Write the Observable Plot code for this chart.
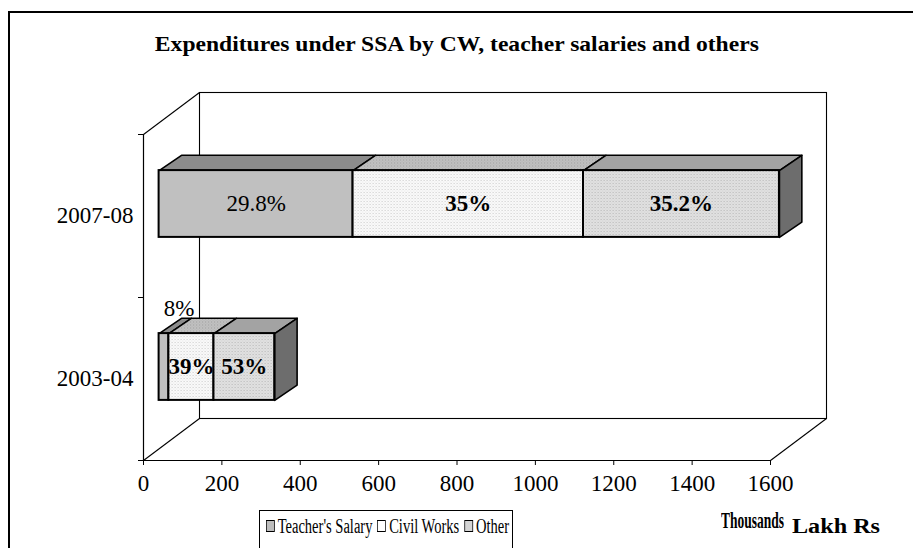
<!DOCTYPE html>
<html>
<head>
<meta charset="utf-8">
<script src="https://cdn.jsdelivr.net/npm/d3@7"></script>
<script src="https://cdn.jsdelivr.net/npm/@observablehq/plot@0.6"></script>
<style>
  body { margin: 0; background: #fff; }
  #wrap { position: relative; width: 913px; height: 548px; overflow: hidden; background: #fff;
          font-family: "Liberation Serif", "Times New Roman", serif; color: #000; }
  #border { position: absolute; left: 8px; top: 11px; width: 1200px; height: 1200px;
            border-left: 2px solid #000; border-top: 2px solid #000; }
  #title { position: absolute; left: 0; top: 32px; width: 913px; text-align: center;
           font-weight: bold; font-size: 21px; white-space: nowrap; }
  #title span { display: inline-block; transform-origin: center; }
  #chart { position: absolute; left: 0; top: 0; }
  #legend { position: absolute; left: 259px; top: 510px; width: 254px; height: 80px;
            border: 1px solid #000; box-sizing: border-box; overflow: hidden; }
  #legendInner { position: absolute; left: 6px; top: 3px; font-size: 20px; white-space: nowrap;
                 transform-origin: left center; display: inline-block;
                 font-family: "Liberation Serif", "Times New Roman", serif; }
  #legendInner .item { display: inline-flex; align-items: center; }
  #legendInner .sw { display: inline-block; width: 12px; height: 12px; border: 1px solid #000; margin-right: 4px; box-sizing: border-box; }
  #legendInner .item + .item { margin-left: 7px; }
  .unit { position: absolute; font-weight: bold; white-space: nowrap; transform-origin: left center; }
</style>
</head>
<body>
<svg width="0" height="0" style="position:absolute">
  <defs>
    <pattern id="pCW" width="3" height="3" patternUnits="userSpaceOnUse">
      <rect width="3" height="3" fill="#fbfbfb"></rect>
      <rect x="0" y="0" width="1" height="1" fill="#c8c8c8"></rect>
      <rect x="1.5" y="1.5" width="1" height="1" fill="#dddddd"></rect>
    </pattern>
    <pattern id="pOther" width="3" height="3" patternUnits="userSpaceOnUse">
      <rect width="3" height="3" fill="#e2e2e2"></rect>
      <rect x="0" y="0" width="1" height="1" fill="#b4b4b4"></rect>
      <rect x="1.5" y="1.5" width="1" height="1" fill="#c6c6c6"></rect>
    </pattern>
    <pattern id="pCWTop" width="3" height="3" patternUnits="userSpaceOnUse">
      <rect width="3" height="3" fill="#c2c2c2"></rect>
      <rect x="0" y="0" width="1" height="1" fill="#9a9a9a"></rect>
      <rect x="1.5" y="1.5" width="1" height="1" fill="#a8a8a8"></rect>
    </pattern>
  </defs>
</svg>
<div id="wrap">
  <div id="border"></div>
  <div id="title"><span id="titleText">Expenditures under SSA by CW, teacher salaries and others</span></div>
  <div id="chart"></div>
  <div id="legend"><span id="legendInner"></span></div>
  <div class="unit" id="u1" style="left:721px; top:507px; font-size:24px;">Thousands</div>
  <div class="unit" id="u2" style="left:792px; top:515px; font-size:20px;">Lakh Rs</div>
</div>
<script>
// ---- data ----
const years = ["2003-04", "2007-08"];
const seriesNames = ["Teacher's Salary", "Civil Works", "Other"];
const teacherSalary = [25, 495];
const civilWorks = [115, 588];
const other = [155, 500];
const shareLabels2003 = ["8%", "39%", "53%"];
const shareLabels2007 = ["29.8%", "35%", "35.2%"];
const labelBold2003 = [false, true, true];
const labelBold2007 = [false, true, true];
const xTicks = [0, 200, 400, 600, 800, 1000, 1200, 1400, 1600];

// ---- styles ----
const FONT = "'Liberation Serif', 'Times New Roman', serif";
const frontColors = ["#c0c0c0", "#f6f6f6", "#dedede"];
const topColors = ["#8c8c8c", "#bcbcbc", "#a3a3a3"];
const sideColor = "#6d6d6d";
const legendColors = ["#bdbdbd", "#ffffff", "#d4d4d4"];
const patternFor = {"#f6f6f6": "url(#pCW)", "#dedede": "url(#pOther)", "#bcbcbc": "url(#pCWTop)"};

// ---- geometry (pixels) ----
const W = 913, H = 548;
const mL = 143, mR = 143, mT = 134, mB = 88;
const xDomain = [0, 1600], yDomain = [0, 2];
const kx = (W - mL - mR) / (xDomain[1] - xDomain[0]);
const ky = (H - mT - mB) / (yDomain[1] - yDomain[0]);
const wallDepth = [56, -42];          // back wall offset
const barFront = [15.6, -12];         // bar front face offset
const barDepth = [22.4, -15.3];       // bar depth
const barHalf = 33.4 / ky;            // half height in y units
const ddx = barDepth[0] / kx, ddy = -barDepth[1] / ky;
const wdx = wallDepth[0] / kx, wdy = -wallDepth[1] / ky;

// ---- build segments ----
const values = [teacherSalary, civilWorks, other];
const labels = [shareLabels2003, shareLabels2007];
const bolds = [labelBold2003, labelBold2007];
const segs = [];
years.forEach((yr, i) => {
  let acc = 0;
  values.forEach((arr, j) => {
    const v = arr[i];
    segs.push({year: yr, i, j, x1: acc, x2: acc + v, yb: i + 0.5 - barHalf, yt: i + 0.5 + barHalf,
               label: labels[i][j], bold: bolds[i][j], last: j === values.length - 1});
    acc += v;
  });
});

const tops = [];
segs.forEach((s, k) => {
  const pts = [[s.x1, s.yt], [s.x2, s.yt], [s.x2 + ddx, s.yt + ddy], [s.x1 + ddx, s.yt + ddy]];
  pts.forEach(p => tops.push({id: "t" + k, x: p[0], y: p[1], fill: topColors[s.j]}));
});
const sides = [];
segs.filter(s => s.last).forEach((s, k) => {
  const pts = [[s.x2, s.yt], [s.x2 + ddx, s.yt + ddy], [s.x2 + ddx, s.yb + ddy], [s.x2, s.yb]];
  pts.forEach(p => sides.push({id: "s" + k, x: p[0], y: p[1]}));
});

const diagonals = [
  {x1: xDomain[0], y1: yDomain[0], x2: xDomain[0] + wdx, y2: yDomain[0] + wdy},
  {x1: xDomain[0], y1: yDomain[1], x2: xDomain[0] + wdx, y2: yDomain[1] + wdy},
  {x1: xDomain[1], y1: yDomain[0], x2: xDomain[1] + wdx, y2: yDomain[0] + wdy}
];

const mainLabels = segs.filter(s => !(s.i === 0 && s.j === 0));
const smallLabel = segs.filter(s => s.i === 0 && s.j === 0);

const chart = Plot.plot({
  width: W, height: H,
  marginLeft: mL, marginRight: mR, marginTop: mT, marginBottom: mB,
  x: {domain: xDomain, label: null},
  y: {domain: yDomain, label: null},
  style: {fontFamily: FONT, background: "transparent", color: "#000", overflow: "visible"},
  marks: [
    Plot.frame({stroke: "#000", strokeWidth: 1.1, dx: wallDepth[0], dy: wallDepth[1]}),
    Plot.link(diagonals, {x1: "x1", y1: "y1", x2: "x2", y2: "y2", stroke: "#000", strokeWidth: 1.1}),
    Plot.ruleX([xDomain[0]], {stroke: "#000", strokeWidth: 1.2}),
    Plot.ruleY([yDomain[0]], {stroke: "#000", strokeWidth: 1.2}),
    Plot.axisX(xTicks, {tickSize: 5, tickPadding: 9, fontSize: 23, fontFamily: FONT, tickFormat: d => String(d), stroke: "#000", strokeOpacity: 1}),
    Plot.axisY([0, 1, 2], {tickSize: 5, tickFormat: () => "", stroke: "#000", strokeOpacity: 1}),
    Plot.axisY([0.5, 1.5], {tickSize: 0, tickPadding: 10, fontSize: 23, fontFamily: FONT, tickFormat: d => years[Math.floor(d)]}),
    // top faces
    Plot.line(tops, {x: "x", y: "y", z: "id", fill: "fill", stroke: "#000", strokeWidth: 1.6, curve: "linear-closed", dx: barFront[0], dy: barFront[1]}),
    // side face
    Plot.line(sides, {x: "x", y: "y", z: "id", fill: sideColor, stroke: "#000", strokeWidth: 1.6, curve: "linear-closed", dx: barFront[0], dy: barFront[1]}),
    // front faces
    Plot.rect(segs, {x1: "x1", x2: "x2", y1: "yb", y2: "yt", fill: d => frontColors[d.j], stroke: "#000", strokeWidth: 2, dx: barFront[0], dy: barFront[1]}),
    Plot.text(mainLabels.filter(d => !d.bold), {x: d => (d.x1 + d.x2) / 2, y: d => d.i + 0.5, text: "label", fontSize: 23, fontFamily: FONT, dx: barFront[0], dy: barFront[1]}),
    Plot.text(mainLabels.filter(d => d.bold), {x: d => (d.x1 + d.x2) / 2, y: d => d.i + 0.5, text: "label", fontSize: 23, fontFamily: FONT, fontWeight: "bold", dx: barFront[0], dy: barFront[1]}),
    Plot.text(smallLabel, {x: d => (d.x1 + d.x2) / 2, y: "yt", text: "label", fontSize: 23, fontFamily: FONT, dx: barFront[0] + 15, dy: barFront[1] - 25})
  ]
});
document.getElementById("chart").appendChild(chart);

// dotted textures like the original's dithered fills
chart.querySelectorAll("[fill]").forEach(el => {
  const f = (el.getAttribute("fill") || "").toLowerCase();
  if (patternFor[f]) el.setAttribute("fill", patternFor[f]);
});

// legend
const legendInner = document.getElementById("legendInner");
seriesNames.forEach((name, j) => {
  const it = document.createElement("span");
  it.className = "item";
  const sw = document.createElement("span");
  sw.className = "sw";
  sw.style.background = legendColors[j];
  it.appendChild(sw);
  it.appendChild(document.createTextNode(name));
  legendInner.appendChild(it);
});

// fit text widths to the reference layout (horizontal condensing)
function fitWidth(el, target) {
  const w = el.getBoundingClientRect().width;
  if (w > 0) el.style.transform = `scaleX(${target / w})`;
}
fitWidth(document.getElementById("titleText"), 604);
fitWidth(document.getElementById("u1"), 63);
fitWidth(document.getElementById("u2"), 88);
fitWidth(legendInner, 243);
</script>
</body>
</html>
